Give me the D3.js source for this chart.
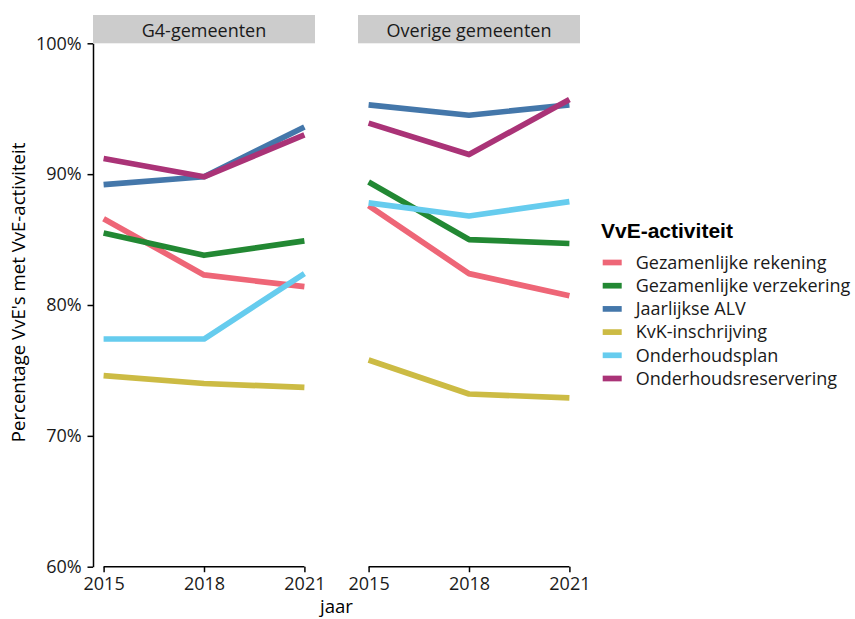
<!DOCTYPE html>
<html><head><meta charset="utf-8">
<script src="https://cdn.jsdelivr.net/npm/d3@7"></script>
<style>body{margin:0;background:#fff}</style>
</head><body>
<script>
const years = [2015, 2018, 2021];
const panels = ["G4-gemeenten", "Overige gemeenten"];
const activities = ["Gezamenlijke rekening","Gezamenlijke verzekering","Jaarlijkse ALV","KvK-inschrijving","Onderhoudsplan","Onderhoudsreservering"];
const colors = ["#EE6677","#228833","#4477AA","#CCBB44","#66CCEE","#AA3377"];
// values in %, per activity: [2015, 2018, 2021]
const g4Values = [
  [86.6, 82.3, 81.4],
  [85.5, 83.8, 84.9],
  [89.2, 89.8, 93.6],
  [74.6, 74.0, 73.7],
  [77.4, 77.4, 82.4],
  [91.2, 89.8, 93.0]
];
const overigeValues = [
  [87.6, 82.4, 80.7],
  [89.4, 85.0, 84.7],
  [95.3, 94.5, 95.3],
  [75.8, 73.2, 72.9],
  [87.8, 86.8, 87.9],
  [93.9, 91.5, 95.7]
];
const yTicks = [60, 70, 80, 90, 100];
const yLabels = ["60%","70%","80%","90%","100%"];
const xTitle = "jaar";
const yTitle = "Percentage VvE's met VvE-activiteit";
const legendTitle = "VvE-activiteit";

const W = 855, H = 619;
const svg = d3.select("body").append("svg").attr("width", W).attr("height", H);
const font = "'Open Sans', sans-serif";
const yTop = 43.3, yBottom = 566.7;
const panelX = [[93, 315], [358, 580]];
const y = d3.scaleLinear().domain([60, 100]).range([yBottom, yTop]);
const allVals = [g4Values, overigeValues];

panels.forEach((p, pi) => {
  const [x0, x1] = panelX[pi];
  const pad = (x1 - x0) * 0.0455;
  const x = d3.scaleLinear().domain([2015, 2021]).range([x0 + pad + 0.5, x1 - pad - 0.5]);
  svg.append("rect").attr("x", x0).attr("y", 15).attr("width", x1 - x0).attr("height", yTop - 15).attr("fill", "#cccccc");
  svg.append("text").attr("x", (x0 + x1) / 2).attr("y", 36.5).attr("text-anchor", "middle")
    .attr("font-family", font).attr("font-size", 18).attr("fill", "#1a1a1a").text(p);
  const xa = svg.append("g").attr("transform", `translate(0,${yBottom})`)
    .call(d3.axisBottom(x).tickValues(years).tickFormat(d3.format("d")).tickSize(5.5).tickSizeOuter(0));
  xa.select(".domain").attr("d", `M${x(2015)},0H${x(2021)}`).attr("stroke", "#000").attr("stroke-width", 1.5);
  xa.selectAll(".tick line").attr("stroke", "#000").attr("stroke-width", 1.5);
  xa.selectAll(".tick text").attr("font-family", font).attr("font-size", 18).attr("fill", "#1a1a1a").attr("dy", 0).attr("y", 23.3);
  const line = d3.line().x((d, i) => x(years[i])).y(d => y(d));
  allVals[pi].forEach((vals, ai) => {
    svg.append("path").attr("d", line(vals)).attr("fill", "none")
      .attr("stroke", colors[ai]).attr("stroke-width", 5.7).attr("stroke-linejoin", "round");
  });
});

const ya = svg.append("g").attr("transform", `translate(${panelX[0][0]},0)`)
  .call(d3.axisLeft(y).tickValues(yTicks).tickFormat((d, i) => yLabels[i]).tickSize(5.5).tickSizeOuter(0));
ya.select(".domain").attr("stroke", "#000").attr("stroke-width", 1.5);
ya.selectAll(".tick line").attr("stroke", "#000").attr("stroke-width", 1.5);
ya.selectAll(".tick text").attr("font-family", font).attr("font-size", 18).attr("fill", "#1a1a1a").attr("x", -11.3);

svg.append("text").attr("x", (panelX[0][0] + panelX[1][1]) / 2).attr("y", 613.3).attr("text-anchor", "middle")
  .attr("font-family", font).attr("font-size", 18.6).attr("fill", "#000").text(xTitle);
svg.append("text").attr("transform", `translate(25,292.5) rotate(-90)`).attr("text-anchor", "middle")
  .attr("font-family", font).attr("font-size", 18.6).attr("fill", "#000").text(yTitle);

svg.append("text").attr("x", 601).attr("y", 238).attr("font-family", "'Liberation Sans', Arial, sans-serif")
  .attr("font-weight", "bold").attr("font-size", 21).attr("fill", "#000").text(legendTitle);
activities.forEach((a, i) => {
  const cy = 262.5 + i * 23.2;
  svg.append("rect").attr("x", 602.7).attr("y", cy - 2.85).attr("width", 19).attr("height", 5.7).attr("fill", colors[i]);
  svg.append("text").attr("x", 635.7).attr("y", cy).attr("dy", "0.35em").attr("font-family", font)
    .attr("font-size", 18).attr("fill", "#1a1a1a").text(a);
});
</script>
</body></html>
